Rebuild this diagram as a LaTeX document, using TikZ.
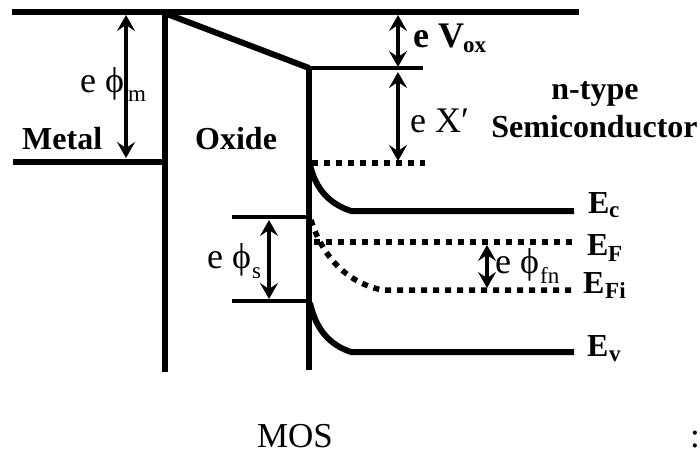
\documentclass[tikz,border=0pt]{standalone}
\usepackage{fontspec}
\setmainfont{Liberation Serif}
\usetikzlibrary{arrows.meta}
\tikzset{
 x=1pt,y=-1pt,
 band/.style={line width=6pt,line cap=butt},
 thinband/.style={line width=4pt},
 dots/.style={line width=5.5pt,dash pattern=on 6pt off 6pt},
 dim/.style={line width=4.5pt,{Stealth[length=16pt,width=18pt,inset=6pt]}-{Stealth[length=16pt,width=18pt,inset=6pt]}},
 boldtxt/.style={font=\fontsize{32}{34}\selectfont\bfseries,inner sep=0pt,anchor=base west},
 bigbold/.style={font=\fontsize{36}{38}\selectfont\bfseries,inner sep=0pt,anchor=base west},
 lighttxt/.style={font=\fontsize{36}{38}\selectfont,inner sep=0pt,anchor=base west},
 subtxt/.style={font=\fontsize{23}{25}\selectfont,inner sep=0pt,anchor=base west},
 subbold/.style={font=\fontsize{23}{25}\selectfont\bfseries,inner sep=0pt,anchor=base west},
 plain/.style={font=\fontsize{35}{37}\selectfont,inner sep=0pt,anchor=base},
}
\begin{document}
\begin{tikzpicture}
\useasboundingbox (0,0) rectangle (700,454);
\coordinate (topL) at (12,12);
\coordinate (topR) at (579,12);
\coordinate (metL) at (13,162);
\coordinate (metR) at (165,162);
\coordinate (oxT) at (165,12);
\coordinate (oxB) at (165,372);
\coordinate (sT) at (309,68);
\coordinate (sB) at (309,370);
\coordinate (chiR) at (423,68);
\coordinate (dL) at (312,163);
\coordinate (dR) at (425,163);
\coordinate (psT) at (232,217);
\coordinate (psTr) at (309,217);
\coordinate (psB) at (232,301);
\coordinate (psBr) at (309,301);
\coordinate (ecL) at (310,165);
\coordinate (ecK) at (351,211);
\coordinate (ecR) at (574,211);
\coordinate (evL) at (310,303);
\coordinate (evK) at (351,352);
\coordinate (evR) at (574,352);
\coordinate (efL) at (314,242);
\coordinate (efR) at (574,242);
\coordinate (fiL) at (311,220);
\coordinate (fiK) at (382,290);
\coordinate (fiR) at (574,290);

\draw[band] (topL) -- (topR);
\draw[band] (metL) -- (metR);
\draw[line width=5.5pt] (oxT) -- (oxB);
\draw[band] (167,14) -- (sT);
\draw[band] (309,66) -- (sB);
\draw[thinband] (sT) -- (chiR);
\draw[dots] (dL) -- (dR);
\draw[thinband] (psT) -- (psTr);
\draw[thinband] (psB) -- (psBr);
\draw[band] (ecL) .. controls (316,190) and (330,204) .. (ecK) -- (ecR);
\draw[band] (evL) .. controls (316,330) and (330,345) .. (evK) -- (evR);
\draw[dots] (efL) -- (efR);
\draw[dots] (fiL) .. controls (322,255) and (345,282) .. (fiK) -- (fiR);

\draw[dim] (126,15) -- (126,158);
\draw[dim] (398,15) -- (398,67);
\draw[dim] (398,72) -- (398,161);
\draw[dim] (269,220) -- (269,299);
\draw[dim] (487,245) -- (487,288);

\node[lighttxt] (phim) at (80,93) {e ϕ};
\node[subtxt] (phimS) at (128,102) {m};
\node[boldtxt] (metal) at (22,150) {Metal};
\node[boldtxt] (oxide) at (195,150) {Oxide};
\node[bigbold] (vox) at (413,48) {e V};
\node[subbold] (voxS) at (463,53) {ox};
\node[lighttxt] (chi) at (410,133) {e X′};
\node[boldtxt,anchor=base] (ntype) at (595,100) {n-type};
\node[boldtxt,anchor=base] (semi) at (594.5,138) {Semiconductor};
\node[boldtxt] (ec) at (588,213) {E};
\node[subbold] (ecS) at (609,218) {c};
\node[boldtxt] (ef) at (587,255) {E};
\node[subbold] (efS) at (608,261) {F};
\node[boldtxt] (efi) at (583,293) {E};
\node[subbold] (efiS) at (605,298) {Fi};
\node[boldtxt] (ev) at (587,356) {E};
\node[subbold] (evS) at (609,361) {v};
\node[lighttxt] (phis) at (207,268) {e ϕ};
\node[subtxt] (phisS) at (252,278) {s};
\node[lighttxt] (phifn) at (495,273) {e ϕ};
\node[subtxt] (phifnS) at (540,283) {fn};
\node[plain] (mos) at (295,447) {MOS};
\node[plain] (colon) at (695,447) {:};
\end{tikzpicture}
\end{document}
